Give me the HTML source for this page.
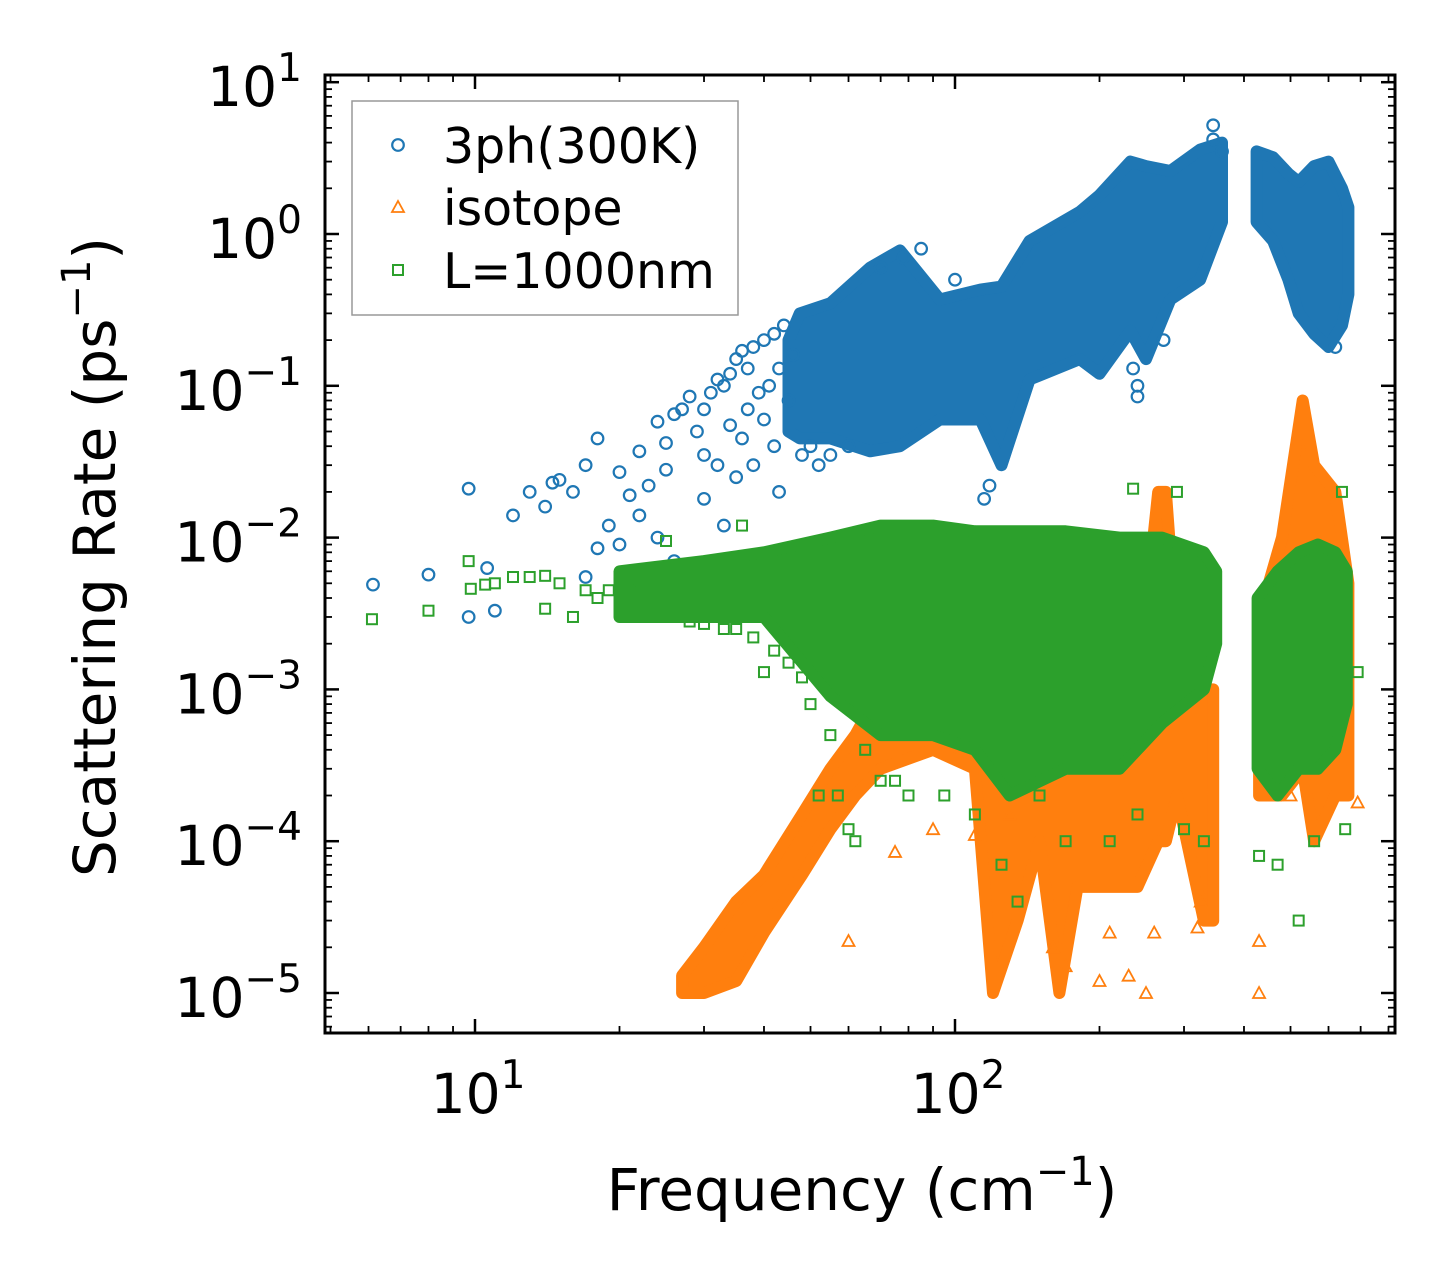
<!DOCTYPE html>
<html><head><meta charset="utf-8"><style>
html,body{margin:0;padding:0;background:#fff}
svg{display:block;font-family:"DejaVu Sans","Liberation Sans",sans-serif}
</style></head><body>
<svg id="chart" width="1455" height="1283" viewBox="0 0 1455 1283" xmlns="http://www.w3.org/2000/svg">
<g id="plot"></g>
<g id="axes"></g>
</svg>
<script>
// ---- data ----
const xTickValues = [10, 100];
const xTickLabels = ["10", "10"];
const xTickExps = ["1", "2"];
const yTickValues = [10, 1, 0.1, 0.01, 0.001, 0.0001, 0.00001];
const yTickExps = ["1", "0", "\u22121", "\u22122", "\u22123", "\u22124", "\u22125"];
const seriesNames = ["3ph(300K)", "isotope", "L=1000nm"];
// bands: [freq, low, high]
const blueBandA = [[45,0.05,0.2],[47.5,0.045,0.3],[55,0.045,0.35],[66.5,0.037,0.6],[76.8,0.04,0.78],[93,0.06,0.37],[113,0.06,0.43],[125,0.03,0.45],[143,0.11,0.9],[182,0.15,1.4],[200,0.12,1.8],[232,0.23,3],[250,0.15,2.8],[281,0.37,2.6],[324,0.5,3.6],[360,1.2,4]];
const blueBandB = [[425,1.2,3.5],[460,0.9,3.2],[495,0.5,2.5],[520,0.3,2.2],[560,0.22,2.8],[600,0.18,3.0],[640,0.25,2.0],[660,0.4,1.5]];
const orangeBandA = [[27,1e-5,1.3e-5],[30,1e-5,2e-5],[35,1.2e-5,4e-5],[40,2.5e-5,6e-5],[48,6e-5,1.5e-4],[55,1.2e-4,3e-4],[62,2e-4,5e-4],[70,3e-4,1e-3],[90,4e-4,2e-3],[110,3e-4,2e-3],[120,1e-5,1.5e-3],[135,3e-5,1.5e-3],[150,1e-4,1.5e-3],[165,1e-5,1.2e-3],[180,5e-5,1.2e-3],[210,5e-5,1e-3],[240,5e-5,1e-3],[265,1e-4,0.02],[275,1e-4,0.02],[290,2e-4,2e-3],[330,3e-5,1e-3],[345,3e-5,1e-3]];
const orangeBandB = [[430,2e-4,3e-3],[480,2e-4,0.01],[530,3e-4,0.08],[560,1e-4,0.03],[620,2e-4,0.02],[660,2e-4,0.005]];
const greenBandA = [[20,0.003,0.006],[30,0.003,0.007],[40,0.003,0.008],[55,0.0009,0.01],[70,0.0005,0.012],[90,0.0005,0.012],[110,0.0004,0.011],[130,0.0002,0.011],[170,0.0003,0.011],[220,0.0003,0.01],[270,0.0006,0.01],[330,0.001,0.008],[350,0.002,0.006]];
const greenBandB = [[427,0.0003,0.004],[470,0.0002,0.006],[520,0.0003,0.008],[570,0.0003,0.009],[620,0.0004,0.008],[655,0.0008,0.006]];
const blueFreq = [6.13,8,9.7,9.7,10.6,11,12,13,14,14.5,15,16,17,18,18,19,20,21,22,23,24,25,26,27,28,29,30,31,32,33,34,35,36,37,38,40,42,44,24,26,28,30,32,33,35,36,38,40,42,43,45,22,20,17,25,30,34,37,39,41,43,46,48,50,52,55,60,70,78,85,100,115,118,240,240,235,272,345,345,360,620];
const blueRate = [0.0049,0.0057,0.021,0.003,0.0063,0.0033,0.014,0.02,0.016,0.023,0.024,0.02,0.03,0.045,0.0085,0.012,0.027,0.019,0.037,0.022,0.058,0.042,0.065,0.07,0.085,0.05,0.07,0.09,0.11,0.1,0.12,0.15,0.17,0.13,0.18,0.2,0.22,0.25,0.01,0.007,0.005,0.018,0.03,0.012,0.025,0.045,0.03,0.06,0.04,0.02,0.08,0.014,0.009,0.0055,0.028,0.035,0.055,0.07,0.09,0.1,0.13,0.16,0.035,0.04,0.03,0.035,0.04,0.6,0.7,0.8,0.5,0.018,0.022,0.1,0.085,0.13,0.2,5.2,4.2,3.5,0.18];
const orangeFreq = [60,75,90,110,130,160,170,200,210,230,250,260,320,325,430,430,500,690];
const orangeRate = [2.2e-5,8.5e-5,1.2e-4,1.1e-4,1.5e-4,2e-5,1.5e-5,1.2e-5,2.5e-5,1.3e-5,1e-5,2.5e-5,2.7e-5,4e-5,1e-5,2.2e-5,2e-4,1.8e-4];
const greenFreq = [6.1,8,9.7,9.8,10.5,11,12,13,14,14,15,16,17,18,19,20,22,24,25,28,30,33,35,36,38,40,42,45,48,50,52,55,57,60,62,65,70,75,80,95,110,125,135,150,170,210,240,300,320,330,235,290,430,470,520,560,650,640,690];
const greenRate = [0.0029,0.0033,0.007,0.0046,0.0049,0.005,0.0055,0.0055,0.0056,0.0034,0.005,0.003,0.0045,0.004,0.0045,0.005,0.0045,0.003,0.0095,0.0028,0.0027,0.0025,0.0025,0.012,0.0022,0.0013,0.0018,0.0015,0.0012,0.0008,0.0002,0.0005,0.0002,0.00012,0.0001,0.0004,0.00025,0.00025,0.0002,0.0002,0.00015,0.00007,0.00004,0.0002,0.0001,0.0001,0.00015,0.00012,0.0013,0.0001,0.021,0.02,0.00008,0.00007,0.00003,0.0001,0.00012,0.02,0.0013];

// ---- axes geometry ----
const L=325,R=1395,T=75,B=1033;
const X10=475, XDEC=480, Y1=234, YDEC=151.8;
function xs(f){return X10+(Math.log10(f)-1)*XDEC;}
function ys(r){return Y1-Math.log10(r)*YDEC;}
const NS="http://www.w3.org/2000/svg";
function mk(tag,attrs,parent){const e=document.createElementNS(NS,tag);for(const k in attrs)e.setAttribute(k,attrs[k]);parent.appendChild(e);return e;}
const plot=document.getElementById('plot'), axes=document.getElementById('axes');
const C={b:'#1f77b4',o:'#ff7f0e',g:'#2ca02c'};

const clip=mk('clipPath',{id:'cp'},plot);
mk('rect',{x:L,y:T,width:R-L,height:B-T},clip);
const pg=mk('g',{'clip-path':'url(#cp)'},plot);

function band(data,color,name){
  const top=data.map(d=>xs(d[0]).toFixed(1)+','+ys(d[2]).toFixed(1));
  const bot=data.slice().reverse().map(d=>xs(d[0]).toFixed(1)+','+ys(d[1]).toFixed(1));
  const p=mk('polygon',{points:top.concat(bot).join(' '),fill:color,stroke:color,'stroke-width':12,'stroke-linejoin':'round'},pg);
  
  
}
function marker(kind,x,y,color,parent){
  let e;
  if(kind==='c') e=mk('circle',{cx:x,cy:y,r:5.8,fill:'none',stroke:color,'stroke-width':2.2},parent);
  else if(kind==='t') e=mk('polygon',{points:`${x},${y-6} ${x+6},${y+5} ${x-6},${y+5}`,fill:'none',stroke:color,'stroke-width':1.8},parent);
  else e=mk('rect',{x:x-5,y:y-5,width:10,height:10,fill:'none',stroke:color,'stroke-width':2},parent);
  return e;
}
function points(fr,rt,kind,color,name){
  for(let i=0;i<fr.length;i++){
    const e=marker(kind,xs(fr[i]),ys(rt[i]),color,pg);
    
    
  }
}
band(blueBandA,C.b,'3ph-dense-band');
band(blueBandB,C.b,'3ph-dense-band-high');
points(blueFreq,blueRate,'c',C.b,'3ph-point');
band(orangeBandA,C.o,'isotope-dense-band');
band(orangeBandB,C.o,'isotope-dense-band-high');
points(orangeFreq,orangeRate,'t',C.o,'isotope-point');
band(greenBandA,C.g,'boundary-dense-band');
band(greenBandB,C.g,'boundary-dense-band-high');
points(greenFreq,greenRate,'s',C.g,'boundary-point');

// frame
const fr=mk('rect',{x:L,y:T,width:R-L,height:B-T,fill:'none',stroke:'#000','stroke-width':3},axes);


for(let d=0;d<3;d++){for(let m=1;m<10;m++){
  const v=m*Math.pow(10,d); const x=xs(v); if(x<L||x>R) continue;
  const len=m===1?14:7;
  mk('line',{x1:x,y1:B,x2:x,y2:B-len,stroke:'#000','stroke-width':m===1?2.5:1.8},axes);
  mk('line',{x1:x,y1:T,x2:x,y2:T+len,stroke:'#000','stroke-width':m===1?2.5:1.8},axes);
}}
for(let d=-6;d<2;d++){for(let m=1;m<10;m++){
  const v=m*Math.pow(10,d); const y=ys(v); if(y<T||y>B) continue;
  const len=m===1?14:7;
  mk('line',{x1:L,y1:y,x2:L+len,y2:y,stroke:'#000','stroke-width':m===1?2.5:1.8},axes);
  mk('line',{x1:R,y1:y,x2:R-len,y2:y,stroke:'#000','stroke-width':m===1?2.5:1.8},axes);
}}
xTickValues.forEach((v,i)=>{
  const t=mk('text',{x:xs(v)+3,y:1113,'font-size':55,'text-anchor':'middle',fill:'#000'},axes);
  
  
  t.textContent=xTickLabels[i];
  const s=mk('tspan',{'font-size':39,dy:-25},t); s.textContent=xTickExps[i];
});
yTickValues.forEach((v,i)=>{
  const t=mk('text',{x:302,y:ys(v)+24,'font-size':55,'text-anchor':'end',fill:'#000'},axes);
  
  
  t.textContent='10';
  const s=mk('tspan',{'font-size':39,dy:-25},t); s.textContent=yTickExps[i];
});
const xl=mk('text',{x:862,y:1210,'font-size':58,'text-anchor':'middle',fill:'#000'},axes);


xl.innerHTML='Frequency (cm<tspan font-size="40" dy="-25">\u22121</tspan><tspan dy="25">)</tspan>';
const yl=mk('text',{x:0,y:0,'font-size':58,'text-anchor':'middle',fill:'#000',transform:'translate(115,557) rotate(-90)'},axes);


yl.innerHTML='Scattering Rate (ps<tspan font-size="40" dy="-25">\u22121</tspan><tspan dy="25">)</tspan>';

// legend
const lg=mk('g',{},axes);


mk('rect',{x:352,y:101,width:386,height:214,fill:'#fff',stroke:'#999','stroke-width':1.5},lg);
const kinds=['c','t','s'], cols=[C.b,C.o,C.g], ly=[145,207,270];
seriesNames.forEach((n,i)=>{
  const m=marker(kinds[i],398,ly[i],cols[i],lg);
  
  
  const t=mk('text',{x:443,y:ly[i]+18,'font-size':49,fill:'#000'},lg);
  
  
  t.textContent=n;
});
</script>
</body></html>
